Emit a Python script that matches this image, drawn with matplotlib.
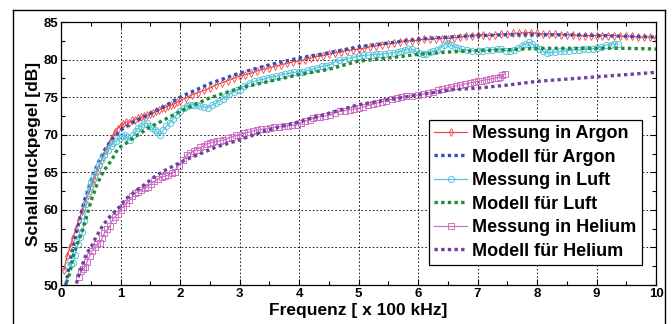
import matplotlib.pyplot as plt
from matplotlib.lines import Line2D

plt.rcParams['font.family'] = ['Liberation Sans', 'DejaVu Sans']

# Messung in Argon
ar_x = [0.05, 0.10, 0.15, 0.20, 0.25, 0.30, 0.35, 0.40, 0.45, 0.50, 0.55, 0.60, 0.65, 0.70,
        0.75, 0.80, 0.85, 0.90, 0.95, 1.00, 1.05, 1.10, 1.15, 1.20, 1.25, 1.30, 1.35, 1.40,
        1.45, 1.50, 1.55, 1.60, 1.65, 1.70, 1.75, 1.80, 1.85, 1.90, 1.95, 2.00, 2.10, 2.20,
        2.30, 2.40, 2.50, 2.60, 2.70, 2.80, 2.90, 3.00, 3.10, 3.20, 3.30, 3.40, 3.50, 3.60,
        3.70, 3.80, 3.90, 4.00, 4.10, 4.20, 4.30, 4.40, 4.50, 4.60, 4.70, 4.80, 4.90, 5.00,
        5.10, 5.20, 5.30, 5.40, 5.50, 5.60, 5.70, 5.80, 5.90, 6.00, 6.10, 6.20, 6.30, 6.40,
        6.50, 6.60, 6.70, 6.80, 6.90, 7.00, 7.10, 7.20, 7.30, 7.40, 7.50, 7.60, 7.70, 7.80,
        7.90, 8.00, 8.10, 8.20, 8.30, 8.40, 8.50, 8.60, 8.70, 8.80, 8.90, 9.00, 9.10, 9.20,
        9.30, 9.40, 9.50, 9.60, 9.70, 9.80, 9.90, 10.0]
ar_y = [52.0, 53.8, 55.0, 56.3, 57.5, 58.6, 59.8, 61.0, 62.0, 63.0, 64.0, 65.0, 66.0, 67.0,
        67.9, 68.8, 69.6, 70.3, 70.8, 71.2, 71.4, 71.7, 71.6, 71.9, 72.0, 72.2, 72.3, 72.5,
        72.6, 72.7, 72.9, 73.1, 73.3, 73.5, 73.6, 73.8, 73.9, 74.1, 74.3, 74.5, 74.9, 75.3,
        75.6, 75.9, 76.2, 76.6, 76.9, 77.2, 77.5, 77.8, 78.0, 78.2, 78.5, 78.7, 78.9, 79.1,
        79.3, 79.5, 79.7, 79.8, 80.0, 80.2, 80.4, 80.5, 80.7, 80.9, 81.0, 81.2, 81.3, 81.4,
        81.5, 81.7, 81.8, 82.0, 82.1, 82.2, 82.4, 82.5, 82.5, 82.6, 82.7, 82.7, 82.8, 82.8,
        82.8, 82.9, 83.0, 83.1, 83.2, 83.3, 83.3, 83.2, 83.3, 83.4, 83.4, 83.5, 83.5, 83.6,
        83.6, 83.5, 83.4, 83.4, 83.4, 83.3, 83.3, 83.3, 83.2, 83.2, 83.2, 83.2, 83.2, 83.2,
        83.2, 83.1, 83.1, 83.1, 83.0, 83.0, 83.0, 82.9]

# Modell fuer Argon
ar_mx = [0.08, 0.12, 0.16, 0.20, 0.25, 0.30, 0.37, 0.45, 0.55, 0.65, 0.75, 0.85, 1.00, 1.20,
         1.45, 1.70, 2.00, 2.50, 3.00, 3.50, 4.00, 4.50, 5.00, 5.50, 6.00, 6.50, 7.00, 7.50,
         8.00, 8.50, 9.00, 9.50, 10.0]
ar_my = [50.0, 51.8, 53.4, 54.9, 56.7, 58.3, 60.6, 62.7, 64.9, 66.7, 68.2, 69.3, 70.6, 71.6,
         72.6, 73.6, 75.0, 76.8, 78.2, 79.3, 80.2, 80.9, 81.7, 82.2, 82.7, 83.0, 83.2, 83.3,
         83.3, 83.3, 83.2, 83.1, 83.0]

# Messung in Luft
lu_x = [0.12, 0.16, 0.20, 0.24, 0.28, 0.32, 0.36, 0.39, 0.42, 0.45, 0.48, 0.51, 0.55, 0.60,
        0.64, 0.68, 0.73, 0.79, 0.84, 0.88, 0.93, 0.99, 1.03, 1.07, 1.11, 1.16, 1.21, 1.26,
        1.30, 1.35, 1.40, 1.44, 1.49, 1.53, 1.58, 1.62, 1.67, 1.72, 1.77, 1.83, 1.88, 1.94,
        2.00, 2.06, 2.11, 2.17, 2.22, 2.28, 2.33, 2.40, 2.47, 2.53, 2.60, 2.66, 2.72, 2.78,
        2.83, 2.90, 2.95, 3.00, 3.08, 3.17, 3.25, 3.33, 3.40, 3.48, 3.55, 3.62, 3.70, 3.77,
        3.85, 3.92, 4.00, 4.07, 4.15, 4.22, 4.30, 4.38, 4.45, 4.52, 4.60, 4.68, 4.76, 4.84,
        4.92, 5.00, 5.08, 5.16, 5.24, 5.30, 5.36, 5.44, 5.52, 5.60, 5.66, 5.72, 5.78, 5.84,
        5.90, 5.96, 6.02, 6.08, 6.14, 6.20, 6.26, 6.32, 6.38, 6.44, 6.50, 6.56, 6.62, 6.68,
        6.74, 6.82, 6.90, 7.00, 7.08, 7.16, 7.24, 7.32, 7.40, 7.48, 7.55, 7.62, 7.68, 7.74,
        7.80, 7.86, 7.92, 7.98, 8.04, 8.10, 8.16, 8.22, 8.30, 8.38, 8.46, 8.54, 8.62, 8.70,
        8.78, 8.86, 8.94, 9.00, 9.08, 9.16, 9.24, 9.30, 9.36]
lu_y = [52.7, 52.8, 52.9, 54.0, 55.5, 56.4, 57.0, 58.5, 60.8, 62.2, 63.0, 63.7, 64.5, 65.3,
        66.0, 66.6, 67.3, 68.0, 68.5, 68.9, 69.2, 69.5, 69.8, 70.0, 69.7, 69.3, 69.9, 70.5,
        70.9, 71.2, 71.4, 71.5, 71.2, 70.9, 70.6, 70.3, 70.0, 70.6, 71.1, 71.6, 72.1, 72.6,
        73.1, 73.5, 73.8, 74.0, 74.0, 73.9, 73.8, 73.7, 73.6, 73.9, 74.2, 74.5, 74.8, 75.1,
        75.4, 75.7, 75.9, 76.0, 76.5, 76.9, 77.1, 77.3, 77.4, 77.6, 77.7, 77.8, 78.0, 78.1,
        78.2, 78.3, 78.35, 78.4, 78.6, 78.7, 78.9, 79.1, 79.2, 79.3, 79.7, 79.9, 80.0, 80.2,
        80.3, 80.5, 80.55, 80.6, 80.65, 80.7, 80.7, 80.8, 80.85, 80.9, 81.0, 81.15, 81.3, 81.4,
        81.35, 81.1, 80.85, 80.7, 80.8, 80.95, 81.1, 81.3, 81.6, 82.0, 82.2, 82.0, 81.7, 81.5,
        81.35, 81.25, 81.2, 81.1, 81.15, 81.25, 81.3, 81.4, 81.35, 81.2, 81.1, 81.3, 81.5, 81.8,
        82.1, 82.3, 82.1, 81.7, 81.4, 81.1, 80.9, 80.95, 81.0, 81.1, 81.15, 81.2, 81.3, 81.3,
        81.35, 81.4, 81.45, 81.5, 81.7, 81.95, 82.0, 82.1, 82.1]

# Modell fuer Luft
lu_mx = [0.09, 0.15, 0.20, 0.29, 0.37, 0.43, 0.51, 0.60, 0.71, 0.85, 0.96, 1.10, 1.24, 1.47,
         1.69, 2.00, 2.50, 3.00, 3.50, 4.00, 4.50, 5.00, 5.50, 6.00, 6.50, 7.00, 7.50, 8.00,
         8.50, 9.00, 9.50, 10.0]
lu_my = [50.3, 51.6, 53.8, 55.8, 57.5, 59.1, 61.3, 63.3, 65.1, 66.6, 68.2, 68.9, 69.7, 70.9,
         71.8, 73.1, 74.9, 76.2, 77.1, 78.0, 78.7, 79.8, 80.2, 80.7, 81.0, 81.2, 81.3, 81.5,
         81.5, 81.5, 81.5, 81.4]

# Messung in Helium
he_x = [0.30, 0.34, 0.37, 0.40, 0.44, 0.48, 0.52, 0.57, 0.61, 0.65, 0.69, 0.73, 0.78, 0.82,
        0.87, 0.91, 0.96, 1.00, 1.04, 1.10, 1.15, 1.20, 1.24, 1.30, 1.35, 1.41, 1.46, 1.52,
        1.57, 1.63, 1.69, 1.75, 1.80, 1.86, 1.91, 1.98, 2.05, 2.11, 2.17, 2.23, 2.28, 2.34,
        2.40, 2.45, 2.50, 2.56, 2.62, 2.68, 2.73, 2.80, 2.87, 2.94, 3.00, 3.07, 3.14, 3.22,
        3.29, 3.36, 3.44, 3.51, 3.58, 3.66, 3.74, 3.81, 3.88, 3.96, 4.03, 4.10, 4.18, 4.24,
        4.30, 4.35, 4.44, 4.52, 4.60, 4.69, 4.77, 4.85, 4.92, 5.00, 5.08, 5.16, 5.24, 5.31,
        5.39, 5.47, 5.56, 5.64, 5.72, 5.80, 5.90, 6.00, 6.08, 6.16, 6.26, 6.34, 6.41, 6.48,
        6.56, 6.64, 6.71, 6.79, 6.87, 6.94, 7.01, 7.08, 7.14, 7.21, 7.28, 7.34, 7.38, 7.42,
        7.46]
he_y = [51.0, 51.8, 52.1, 52.4, 53.1, 53.8, 54.5, 55.1, 55.4, 55.6, 56.2, 56.9, 57.4, 57.8,
        58.7, 59.1, 59.5, 60.0, 60.4, 60.9, 61.3, 61.8, 62.2, 62.4, 62.6, 62.9, 63.1, 63.5,
        63.8, 64.1, 64.4, 64.5, 64.6, 64.9, 65.1, 65.9, 66.6, 67.3, 67.6, 67.8, 68.0, 68.3,
        68.5, 68.7, 68.9, 69.0, 69.1, 69.2, 69.3, 69.5, 69.7, 69.9, 70.0, 70.2, 70.3, 70.5,
        70.6, 70.7, 70.8, 70.9, 71.0, 71.05, 71.1, 71.2, 71.25, 71.3, 71.5, 71.8, 72.0, 72.2,
        72.3, 72.4, 72.5, 72.6, 72.9, 73.1, 73.2, 73.3, 73.4, 73.5, 73.7, 73.9, 74.05, 74.2,
        74.4, 74.55, 74.7, 74.9, 75.0, 75.1, 75.2, 75.3, 75.4, 75.55, 75.7, 75.9, 76.05, 76.2,
        76.35, 76.5, 76.6, 76.75, 76.9, 77.0, 77.1, 77.2, 77.3, 77.4, 77.5, 77.6, 77.7, 77.9,
        78.1]

# Modell fuer Helium
he_mx = [0.26, 0.29, 0.37, 0.43, 0.51, 0.59, 0.71, 0.82, 0.96, 1.10, 1.27, 1.43, 1.57, 1.71,
         1.88, 2.08, 2.62, 3.00, 3.46, 3.90, 4.52, 5.00, 5.47, 6.00, 6.59, 7.00, 7.50, 8.00,
         8.50, 9.00, 9.50, 10.0]
he_my = [50.2, 51.1, 52.9, 54.2, 55.1, 56.4, 58.0, 59.1, 60.2, 61.5, 62.6, 63.5, 64.4, 65.1,
         65.8, 66.6, 68.4, 69.3, 70.6, 71.5, 72.9, 74.0, 74.6, 75.3, 76.0, 76.2, 76.6, 77.1,
         77.4, 77.7, 78.0, 78.3]

c_ar, c_arm = '#f04848', '#3050b8'
c_lu, c_lum = '#58c4dc', '#1e8a3c'
c_he, c_hem = '#d070c4', '#7040a0'
dots = (0, (1, 1))

fig = plt.figure(figsize=(6.72, 3.24), dpi=100)
ax = fig.add_axes([61 / 672, 39 / 324, 595 / 672, 263 / 324])

ax.plot(ar_x, ar_y, color=c_ar, lw=0.9, marker='d', ms=4, mfc='none', mew=0.6,
        label='Messung in Argon')
ax.plot(ar_mx, ar_my, color=c_arm, lw=2.4, ls=dots, label='Modell für Argon')
ax.plot(lu_x, lu_y, color=c_lu, lw=0.9, marker='o', ms=4.5, mfc='none', mew=0.7,
        label='Messung in Luft')
ax.plot(lu_mx, lu_my, color=c_lum, lw=2.4, ls=dots, label='Modell für Luft')
ax.plot(he_x, he_y, color=c_he, lw=0.9, marker='s', ms=5, mfc='none', mew=0.7,
        label='Messung in Helium')
ax.plot(he_mx, he_my, color=c_hem, lw=2.4, ls=dots, label='Modell für Helium')

ax.set_xlim(0, 10)
ax.set_ylim(50, 85)
ax.set_xticks(range(0, 11))
ax.set_yticks(range(50, 86, 5))
ax.set_xticks([i + 0.5 for i in range(10)], minor=True)
ax.set_yticks([52.5 + 5 * i for i in range(7)], minor=True)
ax.tick_params(which='both', direction='in', top=True, right=True)
ax.tick_params(which='major', length=4, width=0.8, labelsize=9.5, pad=2)
ax.tick_params(which='minor', length=3, width=0.8)
for lab in ax.get_xticklabels() + ax.get_yticklabels():
    lab.set_fontweight('bold')
ax.grid(True, which='major', color='black', ls=(0, (2, 2.5)), lw=0.6)
for s in ax.spines.values():
    s.set_linewidth(0.9)

ax.set_xlabel('Frequenz [ x 100 kHz]', fontsize=12.5, fontweight='bold', labelpad=2)
ax.set_ylabel('Schalldruckpegel [dB]', fontsize=12.5, fontweight='bold', labelpad=2)

leg = ax.legend(loc='lower right', bbox_to_anchor=(0.9765, 0.076), borderaxespad=0,
                prop={'size': 13, 'weight': 'bold'}, fancybox=False, framealpha=1,
                edgecolor='black', handlelength=1.8, handletextpad=0.3,
                labelspacing=0.36, borderpad=0.3)
leg.get_frame().set_linewidth(0.9)

# outer frame of the figure
for xs, ys in [([13, 13], [0, 314]), ([13, 665], [314, 314]), ([665, 665], [314, 0])]:
    fig.add_artist(Line2D([x / 672 for x in xs], [y / 324 for y in ys],
                          color='black', lw=1.0))

fig.savefig('out.png', dpi=100)
